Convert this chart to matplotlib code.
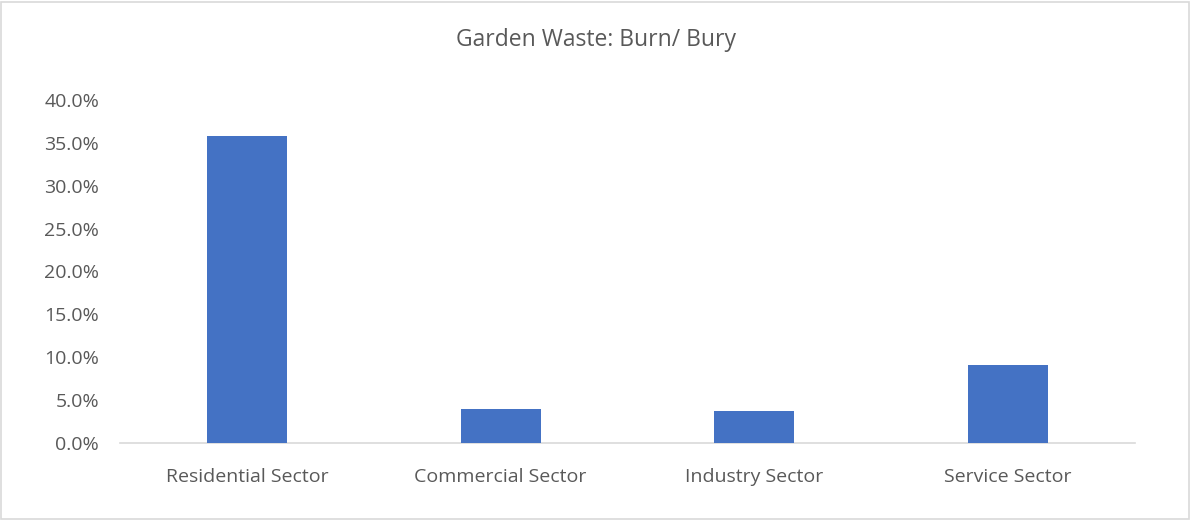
import matplotlib
matplotlib.use("Agg")
import matplotlib.pyplot as plt
from matplotlib.patches import Rectangle
from matplotlib.ticker import FuncFormatter

# data
sectors = ["Residential Sector", "Commercial Sector", "Industry Sector", "Service Sector"]
shares = [0.358, 0.040, 0.037, 0.091]

title = "Garden Waste: Burn/ Bury"
text_color = "#595959"
bar_color = "#4472C4"

plt.rcParams["font.family"] = ["Open Sans", "DejaVu Sans"]

fig = plt.figure(figsize=(11.91, 5.2), dpi=100)
ax = fig.add_axes([120 / 1191, 1 - 443 / 520, 1015 / 1191, 343 / 520])

x = range(len(sectors))
ax.bar(x, shares, width=0.315, color=bar_color, zorder=3)

ax.set_xlim(-0.5, len(sectors) - 0.5)
ax.set_ylim(0, 0.40)
ax.set_yticks([i * 0.05 for i in range(9)])
ax.yaxis.set_major_formatter(FuncFormatter(lambda v, _: "{:.1f}%".format(v * 100)))
ax.set_xticks(list(x))
ax.set_xticklabels(sectors)

for side in ("top", "right", "left"):
    ax.spines[side].set_visible(False)
ax.spines["bottom"].set_color("#D9D9D9")
ax.spines["bottom"].set_linewidth(1.2)
ax.tick_params(axis="both", length=0, colors=text_color, labelsize=14)
ax.tick_params(axis="x", pad=18)
ax.tick_params(axis="y", pad=15)

fig.text(0.5, 1 - 40 / 520, title, ha="center", va="center", fontsize=16.5, color=text_color)

# chart border
fig.patches.append(
    Rectangle((1 / 1191, 1 / 520), 1188 / 1191, 517 / 520, transform=fig.transFigure,
              fill=False, edgecolor="#D9D9D9", linewidth=1.2)
)

fig.savefig("out.png", dpi=100)
plt.close(fig)
